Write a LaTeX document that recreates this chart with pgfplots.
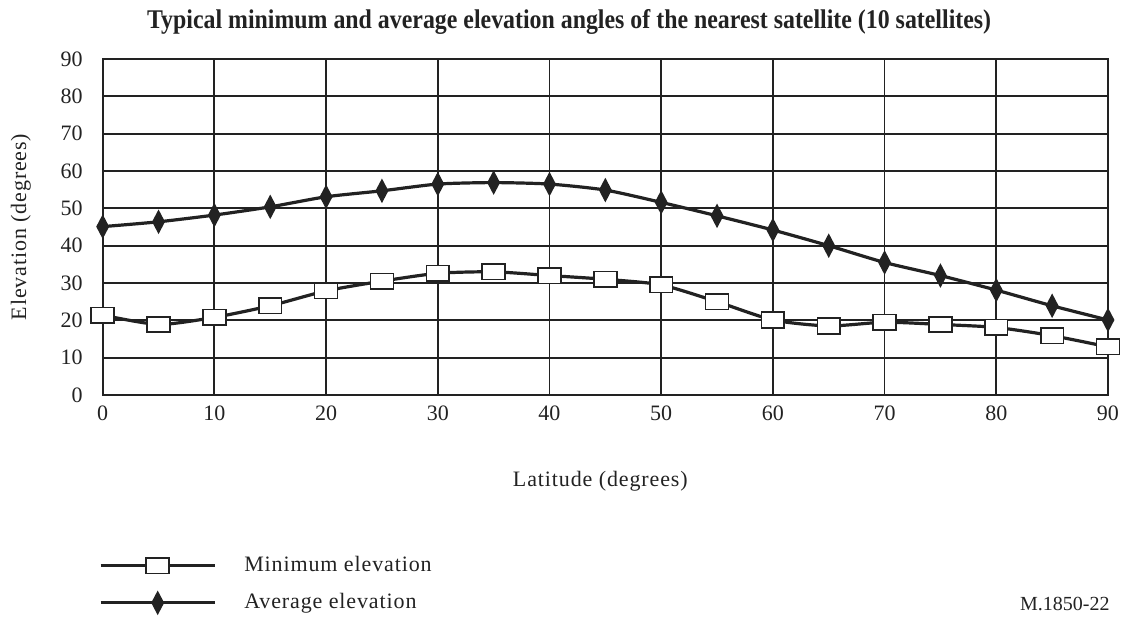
\documentclass[border=0pt]{standalone}
\usepackage{fontspec}
\setmainfont{Liberation Serif}
\newfontfamily\spaced[LetterSpace=4]{Liberation Serif}
\usepackage{graphicx}
\usepackage{pgfplots}
\pgfplotsset{compat=1.18}
\definecolor{ink}{HTML}{222222}

\pgfplotstableread{
x y
0 21.4
5 18.9
10 20.8
15 23.9
20 27.9
25 30.5
30 32.6
35 33.0
40 32.0
45 31.0
50 29.5
55 25.0
60 20.1
65 18.5
70 19.5
75 18.9
80 18.1
85 15.9
90 12.9
}\minelev

\pgfplotstableread{
x y
0 45.1
5 46.4
10 48.2
15 50.4
20 53.1
25 54.7
30 56.5
35 56.9
40 56.5
45 54.9
50 51.6
55 48.0
60 44.2
65 40.0
70 35.5
75 32.0
80 28.1
85 23.9
90 20.1
}\avgelev

\begin{document}
\begin{tikzpicture}[x=1pt,y=1pt]
\useasboundingbox (-51.35,-111.5) rectangle (512.65,197.5);
\begin{axis}[
 at={(0,0)}, anchor=south west, scale only axis,
 width=502.65pt, height=168pt,
 xmin=0,xmax=90,ymin=0,ymax=90,
 xtick={0,10,...,90}, ytick={0,10,...,90},
 grid=major, major grid style={line width=0.9pt, ink},
 axis line style={line width=1pt, ink},
 major tick length=0pt,
 tick label style={font=\fontsize{11}{13}\selectfont, ink},
 /pgf/number format/assume math mode=true,
 xticklabel style={yshift=-2pt},
 yticklabel style={xshift=-6.5pt},
 xlabel={Latitude (degrees)}, ylabel={Elevation (degrees)},
 label style={font=\spaced\fontsize{11}{13}\selectfont, text=ink},
 xlabel style={at={(axis description cs:0.495,-0.256)}, anchor=center},
 ylabel style={at={(axis description cs:-0.0813,0.5)}, anchor=center},
 legend image code/.code={\draw[#1, mark repeat=2, mark phase=2] plot coordinates {(0pt,0pt) (28.5pt,0pt) (57pt,0pt)};},
 legend style={draw=none, fill=none, at={(axis description cs:0,0)}, anchor=north west,
   yshift=-76.5pt, xshift=-5pt, font=\spaced\fontsize{11}{13}\selectfont, text=ink,
   row sep=5.5pt, column sep=12pt},
 legend cell align=left,
]
\addplot[ink, line width=1.6pt, smooth, tension=0.4, mark=square*, mark size=5.7pt,
  mark options={fill=white, draw=ink, line width=0.8pt, yscale=0.68}] table {\minelev};
\addlegendentry{Minimum elevation}
\addplot[ink, line width=1.6pt, smooth, tension=0.4, mark=diamond*, mark size=5.4pt,
  mark options={fill=ink, draw=ink, line width=0.7pt, xscale=0.7}] table {\avgelev};
\addlegendentry{Average elevation}
\end{axis}
\node[text=ink] at (233.2,186.5) {\resizebox{422pt}{\height}{\fontsize{13.5}{16}\selectfont\bfseries Typical minimum and average elevation angles of the nearest satellite (10 satellites)}};
\node[anchor=east, text=ink, font=\fontsize{10}{12}\selectfont] at (507,-104.5) {M.1850-22};
\end{tikzpicture}
\end{document}
